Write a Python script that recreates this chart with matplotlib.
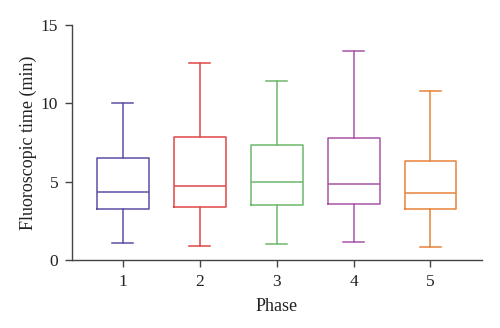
import matplotlib
matplotlib.use("Agg")
import matplotlib.pyplot as plt

# values (minutes)
phases = [1, 2, 3, 4, 5]
whisker_low = [1.10, 0.91, 1.02, 1.17, 0.83]
q1 = [3.23, 3.40, 3.49, 3.59, 3.28]
median = [4.34, 4.74, 5.00, 4.87, 4.30]
q3 = [6.51, 7.87, 7.34, 7.79, 6.32]
whisker_high = [10.02, 12.60, 11.42, 13.36, 10.77]
colors = ["#5a4fa5", "#e04545", "#6cb86a", "#a855a8", "#e8833a"]

plt.rcParams['font.family'] = ['Liberation Serif', 'DejaVu Serif']

fig = plt.figure(figsize=(5, 3.28), dpi=100)
ax = fig.add_axes([0.144, 0.207, 0.82, 0.717])

stats = []
for i in range(len(phases)):
    stats.append(dict(whislo=whisker_low[i], q1=q1[i], med=median[i],
                      q3=q3[i], whishi=whisker_high[i], fliers=[],
                      label=str(phases[i])))

for i, st in enumerate(stats):
    c = colors[i]
    props = dict(color=c, linewidth=1.1)
    ax.bxp([st], positions=[phases[i]], widths=0.675, showfliers=False,
           boxprops=props, whiskerprops=props, capprops=props,
           medianprops=props, capwidths=0.27)

ax.set_xlim(0.34, 5.67)
ax.set_ylim(0, 15)
ax.set_yticks([0, 5, 10, 15])
ax.set_xticks(phases)
ax.set_xticklabels([str(p) for p in phases])

for s in ['top', 'right']:
    ax.spines[s].set_visible(False)
for s in ['left', 'bottom']:
    ax.spines[s].set_color('#444444')
    ax.spines[s].set_linewidth(1.0)
ax.tick_params(colors='#444444', labelcolor='#222222', length=5,
               width=1.0, labelsize=12.5)
ax.tick_params(axis='x', pad=5)
ax.tick_params(axis='y', pad=5)

ax.set_xlabel('Phase', fontsize=13, color='#222222', labelpad=6)
ax.set_ylabel('Fluoroscopic time (min)', fontsize=13, color='#222222',
              labelpad=3)

fig.savefig('out.png', dpi=100)
